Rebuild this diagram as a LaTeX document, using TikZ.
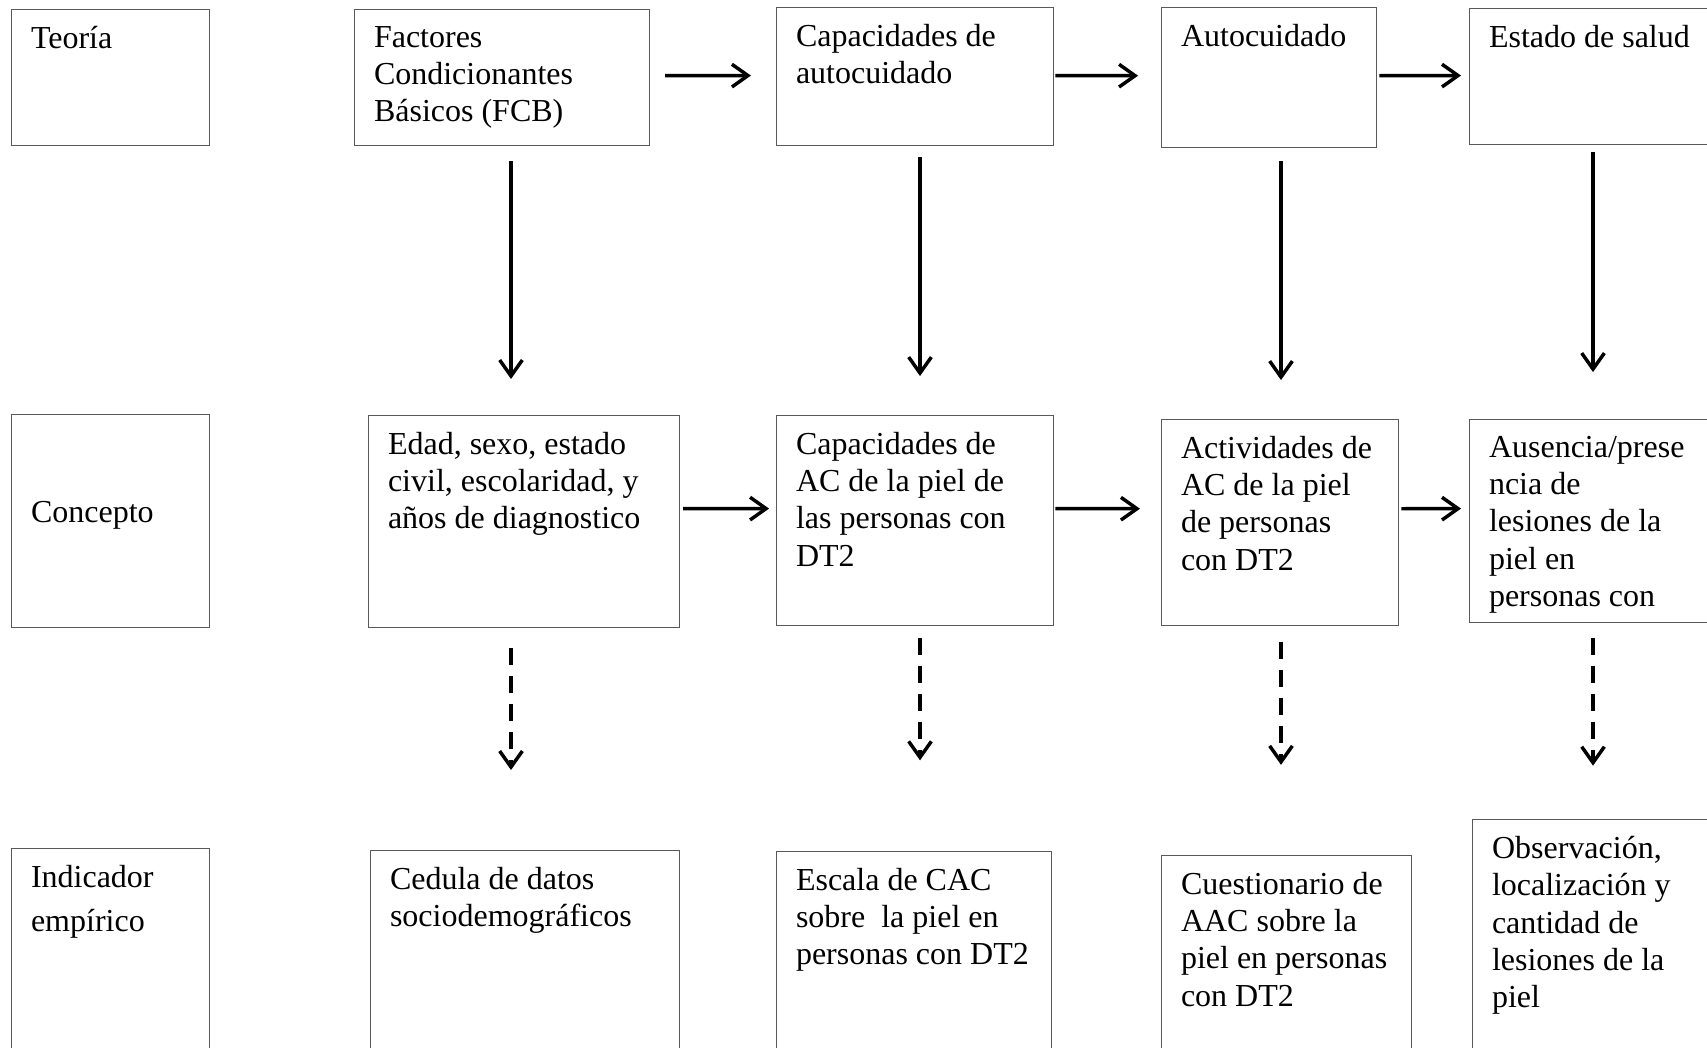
\documentclass[tikz,border=0pt]{standalone}
\usepackage{fontspec}
\setmainfont{Liberation Serif}
\usetikzlibrary{arrows.meta}
\def\caja(#1)(#2,#3)(#4,#5)#6{%
  \node[caja, minimum width=#4*0.375pt, minimum height=#5*0.375pt] (#1) at (#2,#3) {};
  \node[texto] (#1-t) at ([xshift=7.3pt,yshift=-6.2pt]#1.north west) {#6};}

\begin{document}
\begin{tikzpicture}[x=0.375pt, y=-0.375pt,
    caja/.style={draw=black!65, line width=0.45pt, anchor=north west, inner sep=0pt},
    texto/.style={anchor=north west, inner sep=0pt, align=left, font=\fontsize{12}{14}\selectfont},
    flecha/.style={line width=1.3pt, -{Straight Barb[length=6pt, width=8.5pt]}},
    flechad/.style={flecha, dash pattern=on 6.4pt off 4.1pt}]
		%%%%% START %%%%%
		\fill[white] (0,0) rectangle (1707,1047);
		\path[use as bounding box] (0,0) rectangle (1707,1047);
		\clip (0,0) rectangle (1707,1047);
		
		% fila teoria
		\caja(teo)(11,9)(198,136){Teoría}
		\caja(fcb)(354,9)(295,136){Factores\\Condicionantes\\Básicos (FCB)}
		\caja(cap)(776,7)(277,138){Capacidades de\\autocuidado}
		\caja(auto)(1161,7)(215,140){Autocuidado}
		\caja(est)(1469,8)(400,136){Estado de salud}
		
		% fila concepto
		\node[caja, minimum width=198*0.375pt, minimum height=213*0.375pt] (con) at (11,414) {};
		\node[texto, anchor=west] (con-t) at ([xshift=7.3pt,yshift=2pt]con.west) {Concepto};
		\caja(eda)(368,415)(311,212){Edad, sexo, estado\\civil, escolaridad, y\\años de diagnostico}
		\caja(cap2)(776,415)(277,210){Capacidades de\\AC de la piel de\\las personas con\\DT2}
		\caja(act)(1161,419)(237,206){Actividades de\\AC de la piel\\de personas\\con DT2}
		\caja(aus)(1469,419)(400,203){Ausencia/prese\\ncia de\\lesiones de la\\piel en\\personas con}
		
		% fila indicador
		\caja(ind)(11,848)(198,300){Indicador\\[2.6pt]empírico}
		\caja(ced)(370,850)(309,300){Cedula de datos\\sociodemográficos}
		\caja(esc)(776,851)(275,300){Escala de CAC\\sobre\ \ la piel en\\personas con DT2}
		\caja(cue)(1161,855)(250,300){Cuestionario de\\AAC sobre la\\piel en personas\\con DT2}
		\caja(obs)(1472,819)(400,330){Observación,\\localización y\\cantidad de\\lesiones de la\\piel}
		
		% columnas de flechas
		\coordinate (c1) at (511,0);
		\coordinate (c2) at (920,0);
		\coordinate (c3) at (1281,0);
		\coordinate (c4) at (1593,0);
		
		\draw[flecha, shorten <=5.6pt, shorten >=9.4pt] ([yshift=0.7pt]fcb.east) -- ([yshift=0.4pt]cap.west);
		\draw[flecha, shorten <=0.4pt, shorten >=8.6pt] ([yshift=0.4pt]cap.east) -- ([yshift=0.7pt]auto.west);
		\draw[flecha, shorten <=0.8pt, shorten >=3pt] ([yshift=0.7pt]auto.east) -- ([yshift=0.4pt]est.west);
		
		\draw[flecha, shorten <=1.1pt, shorten >=2.6pt] ([yshift=4.9pt]eda.east) -- ([yshift=4.5pt]cap2.west);
		\draw[flecha, shorten <=0.4pt, shorten >=7.9pt] ([yshift=4.5pt]cap2.east) -- ([yshift=5.2pt]act.west);
		\draw[flecha, shorten <=0.8pt, shorten >=3pt] ([yshift=5.2pt]act.east) -- ([yshift=4.7pt]aus.west);
		
		\draw[flecha, shorten <=5.6pt, shorten >=13.5pt] (fcb.south -| c1) -- (eda.north -| c1);
		\draw[flecha, shorten <=4.1pt, shorten >=14.6pt] (cap.south -| c2) -- (cap2.north -| c2);
		\draw[flecha, shorten <=4.9pt, shorten >=14.6pt] (auto.south -| c3) -- (act.north -| c3);
		\draw[flecha, shorten <=2.6pt, shorten >=17.6pt] (est.south -| c4) -- (aus.north -| c4);
		
		\draw[flechad, shorten <=7.5pt, shorten >=30pt] (eda.south -| c1) -- (ced.north -| c1);
		\draw[flechad, shorten <=4.5pt, shorten >=34pt] (cap2.south -| c2) -- (esc.north -| c2);
		\draw[flechad, shorten <=6pt, shorten >=33.8pt] (act.south -| c3) -- (cue.north -| c3);
		\draw[flechad, shorten <=5.6pt, shorten >=20pt] (aus.south -| c4) -- (obs.north -| c4);
		
		%%%%% END %%%%%
\end{tikzpicture}
\end{document}
